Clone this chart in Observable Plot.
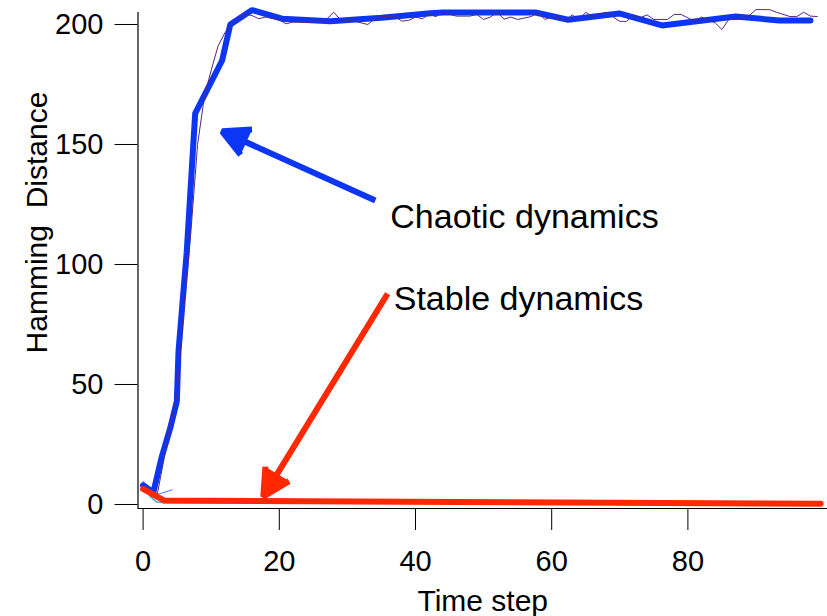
<!DOCTYPE html>
<html><head><meta charset="utf-8">
<script src="https://cdn.jsdelivr.net/npm/d3@7"></script>
<script src="https://cdn.jsdelivr.net/npm/@observablehq/plot@0.6"></script>
<style>body{margin:0;background:#fff}</style>
</head><body><div id="chart"></div>
<script>
// Tick values
const xTicks = [0, 20, 40, 60, 80];
const yTicks = [0, 50, 100, 150, 200];
const xLabel = "Time step";
const yLabel = "Hamming  Distance";

// Chaotic dynamics: averaged (thick) curve
const chaoticAvgT = [0, 1.5, 2.75, 4, 4.95, 5.2, 5.9, 6.4, 7.65, 11.6, 12.8, 16, 20.4, 27.5, 35, 42.2, 44, 57.6, 62.4, 69.9, 76.2, 87, 93.4, 98];
const chaoticAvgV = [8, 5, 20, 32, 43, 64, 88, 105, 163, 185, 200, 206, 202.4, 201.4, 202.8, 204.7, 205, 205, 202, 204.6, 199.6, 203.3, 201.7, 201.7];

// Chaotic dynamics: single run (thin)
const chaoticRunT = [0,1,2,3,4,5,6,7,8,9,10,11,12,13,14,15,16,17,18,20,21,22,25,27,28,29,31,33,34,35,37,38,39,40,41,42,43,44,46,48,49,50,51,52,53,54,55,57,58,59,60,62,63,64,65,66,68,70,71,72,73,74,75,77,78,79,81,82,84,85,86,88,89,90,92,93,95,96,97,98,99];
const chaoticRunV = [8,5,3,18,33,46,82,113,150,170,181,191,196.5,200,202.5,204.4,203.7,202.4,203.1,201.9,200.3,201,201,202.4,205.1,201.9,201.4,200,202.4,203.3,203.3,201.4,201.7,203.1,202.4,204.2,203.3,205,203.5,203.5,204.2,202.1,203.1,205.1,202.2,203.1,202.1,203.3,205,202.1,203.1,201.7,204,202.1,205.1,203.3,205.1,201.3,201.3,204,202.8,204,202.1,202.1,204.2,204.2,201.3,203.1,200.7,197.9,202.1,202.1,203.7,206.2,206.2,205.1,203.3,203.3,205.1,203.5,203.3];

// Stable dynamics: averaged (thick) and single run (thin)
const stableAvgT = [0, 3.05, 99.5];
const stableAvgV = [6.5, 1.67, 0.3];
const stableRunT = [0, 1, 2, 3, 20, 99.5];
const stableRunV = [9, 3.5, 1, 0.7, 0.6, 0];

// Extra short run near origin
const extraRunT = [0, 1.56, 4.28];
const extraRunV = [9.7, 3.75, 6.1];

// Annotations
const noteText = ["Chaotic dynamics", "Stable dynamics"];
const noteT = [36.3, 36.8];
const noteV = [119.7, 85.4];
const arrowFromT = [34.1, 35.9];
const arrowFromV = [126.7, 87.8];
const arrowToT = [11.6, 17.65];
const arrowToV = [155.5, 3.3];

const blue = "#0c36f4", red = "#ff2800", purple = "#55287d", cyan = "#35b8c8", lightBlue = "#5a74ff";
const arrowColors = [blue, red];

const zip = (T, V) => T.map((t, i) => ({t, v: V[i]}));
const notes = noteText.map((s, i) => ({s, t: noteT[i], v: noteV[i], x1: arrowFromT[i], y1: arrowFromV[i], x2: arrowToT[i], y2: arrowToV[i], c: arrowColors[i]}));

const xDomain = [-0.75, 100.5];
const yDomain = [-1.67, 205];

const chart = Plot.plot({
  width: 827, height: 616,
  marginLeft: 137.5, marginRight: 0, marginTop: 12, marginBottom: 108,
  x: {domain: xDomain},
  y: {domain: yDomain},
  style: {fontFamily: "'Liberation Sans', Arial, sans-serif", background: "#fff", color: "#000"},
  marks: [
    Plot.axisX({ticks: xTicks, tickSize: 22, tickPadding: 20, fontSize: 29, label: null, stroke: "#000", strokeOpacity: 1}),
    Plot.axisY({ticks: yTicks, tickSize: 23, tickPadding: 11.5, fontSize: 29, label: null, stroke: "#000", strokeOpacity: 1}),
    Plot.ruleY([yDomain[0]], {stroke: "#000", strokeWidth: 1.2}),
    Plot.ruleX([xDomain[0]], {stroke: "#000", strokeWidth: 1.2}),
    Plot.text([xLabel], {frameAnchor: "bottom", lineAnchor: "middle", textAnchor: "middle", dy: 93, fontSize: 30, fill: "#000"}),
    Plot.text([yLabel], {frameAnchor: "left", textAnchor: "middle", lineAnchor: "middle", dx: -100.5, dy: -38, rotate: -90, fontSize: 30, fill: "#000"}),
    Plot.line(zip(stableRunT, stableRunV), {x: "t", y: "v", stroke: cyan, strokeWidth: 1.5}),
    Plot.line(zip(extraRunT, extraRunV), {x: "t", y: "v", stroke: lightBlue, strokeWidth: 1}),
    Plot.line(zip(chaoticAvgT, chaoticAvgV), {x: "t", y: "v", stroke: blue, strokeWidth: 6, strokeLinejoin: "miter"}),
    Plot.line(zip(chaoticRunT, chaoticRunV), {x: "t", y: "v", stroke: purple, strokeWidth: 1}),
    Plot.line(zip(stableAvgT, stableAvgV), {x: "t", y: "v", stroke: red, strokeWidth: 6, strokeLinejoin: "miter"}),
    Plot.arrow(notes, {x1: "x1", y1: "y1", x2: "x2", y2: "y2", stroke: "c", fill: "c", strokeWidth: 6, headLength: 7.5, headAngle: 55, strokeLinecap: "butt"}),
    Plot.text(notes, {x: "t", y: "v", text: "s", textAnchor: "start", lineAnchor: "middle", fontSize: 34, fill: "#000"})
  ]
});
document.getElementById("chart").append(chart);
</script>
</body></html>
